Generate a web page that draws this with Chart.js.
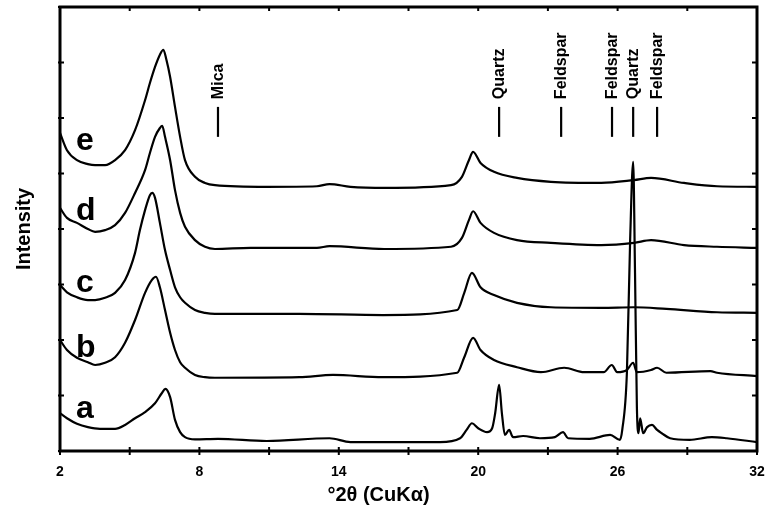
<!DOCTYPE html>
<html>
<head>
<meta charset="utf-8">
<script src="https://cdn.jsdelivr.net/npm/chart.js@4/dist/chart.umd.min.js"></script>
<style>
  html, body { margin: 0; padding: 0; background: #fff; }
  #c { display: block; }
</style>
</head>
<body>
<canvas id="c" width="768" height="511"></canvas>
<script>
// ---------- DATA ----------
const curveNames = ['a', 'b', 'c', 'd', 'e'];

const thetaA = [2, 2.3, 2.73, 3.2, 3.72, 4.37, 4.8, 5.23, 5.66, 6.09, 6.38, 6.54, 6.74, 6.95, 7.17, 7.38, 7.81, 8.8, 10.9, 13.6, 14.5, 15.9,
  18.36, 19.22, 19.5, 19.73, 20.0, 20.38, 20.6, 20.73, 20.9, 21.02, 21.15, 21.33, 21.5, 21.93, 22.66, 23.3, 23.65, 23.87,
  24.8, 25.68, 26.1, 26.2, 26.4, 26.54, 26.67, 26.75, 26.83, 26.9, 26.97, 27.1, 27.27, 27.48, 27.7, 27.9, 28.26, 29.1,
  30.06, 30.7, 32];
const intensityA = [0.68, 0.59, 0.49, 0.43, 0.40, 0.40, 0.47, 0.59, 0.70, 0.86, 1.04, 1.12, 0.97, 0.56, 0.34, 0.25, 0.21, 0.22, 0.18, 0.23, 0.16, 0.16,
  0.16, 0.23, 0.38, 0.50, 0.41, 0.34, 0.41, 0.68, 1.19, 0.68, 0.29, 0.38, 0.25, 0.27, 0.23, 0.25, 0.34, 0.23,
  0.22, 0.29, 0.20, 0.38, 1.41, 3.80, 5.21, 3.21, 0.79, 0.32, 0.59, 0.32, 0.43, 0.47, 0.38, 0.32, 0.23, 0.20,
  0.25, 0.23, 0.16];

const thetaB = [2, 2.3, 2.73, 3.2, 3.51, 3.94, 4.37, 4.8, 5.23, 5.66, 5.95, 6.13, 6.30, 6.52, 6.74, 6.95, 7.17, 7.38, 7.81, 8.24, 8.67, 12.3, 13.75, 15.9,
  19.1, 19.4, 19.78, 20.1, 20.68, 21.67, 22.7, 23.7, 24.56, 25.4, 25.75, 25.98, 26.4, 26.67, 26.83, 27.44, 27.7, 28.1,
  30.0, 30.28, 32];
const intensityB = [2.00, 1.82, 1.68, 1.60, 1.55, 1.59, 1.69, 1.95, 2.36, 2.85, 3.08, 3.14, 2.95, 2.54, 2.13, 1.82, 1.60, 1.50, 1.37, 1.33, 1.32, 1.33, 1.37, 1.33,
  1.41, 1.69, 2.04, 1.82, 1.64, 1.51, 1.42, 1.50, 1.42, 1.42, 1.55, 1.42, 1.46, 1.59, 1.42, 1.46, 1.50, 1.41,
  1.44, 1.41, 1.35];

const thetaC = [2, 2.3, 2.73, 3.2, 3.51, 3.94, 4.37, 4.8, 5.23, 5.44, 5.66, 5.87, 5.97, 6.09, 6.30, 6.52, 6.74, 6.95, 7.17, 7.38, 7.81, 8.24, 8.67, 12.3, 15.9,
  19.1, 19.4, 19.73, 20.1, 20.68, 21.67, 23.13, 25.3, 26.7, 28.1, 30.28, 32];
const intensityC = [2.99, 2.86, 2.77, 2.72, 2.72, 2.76, 2.85, 3.08, 3.57, 3.98, 4.34, 4.61, 4.65, 4.56, 4.11, 3.62, 3.26, 2.95, 2.77, 2.67, 2.54, 2.49, 2.47, 2.47, 2.45,
  2.54, 2.85, 3.21, 2.95, 2.81, 2.67, 2.59, 2.58, 2.59, 2.56, 2.50, 2.49];

const thetaD = [2, 2.3, 2.73, 3.2, 3.51, 3.94, 4.37, 4.8, 5.23, 5.66, 5.87, 6.09, 6.30, 6.40, 6.52, 6.74, 6.95, 7.17, 7.38, 7.81, 8.24, 8.67, 10.2, 13.06, 13.6, 15.95,
  18.83, 19.3, 19.6, 19.78, 20.1, 20.68, 21.67, 23.13, 25.3, 26.7, 27.44, 28.86, 30.28, 32];
const intensityD = [4.38, 4.20, 4.11, 4.00, 3.95, 3.98, 4.07, 4.29, 4.65, 5.06, 5.37, 5.66, 5.82, 5.86, 5.66, 5.24, 4.70, 4.29, 4.04, 3.80, 3.68, 3.64, 3.66, 3.66, 3.69, 3.64,
  3.68, 3.84, 4.16, 4.32, 4.11, 3.93, 3.80, 3.75, 3.71, 3.75, 3.80, 3.71, 3.68, 3.66];

const thetaE = [2, 2.3, 2.73, 3.2, 3.51, 3.94, 4.37, 4.8, 5.23, 5.66, 5.87, 6.09, 6.30, 6.45, 6.58, 6.74, 6.95, 7.17, 7.38, 7.81, 8.24, 8.67, 10.9, 13.06, 13.6, 14.5, 16,
  18.83, 19.3, 19.6, 19.78, 20.1, 20.68, 21.67, 23.13, 25.3, 26.7, 27.44, 28.86, 30.28, 32];
const intensityE = [5.73, 5.42, 5.24, 5.17, 5.15, 5.15, 5.24, 5.42, 5.78, 6.32, 6.63, 6.92, 7.14, 7.23, 7.05, 6.74, 6.20, 5.66, 5.24, 4.94, 4.83, 4.79, 4.76, 4.77, 4.81, 4.76, 4.74,
  4.79, 4.94, 5.24, 5.39, 5.19, 5.03, 4.92, 4.85, 4.83, 4.88, 4.92, 4.83, 4.77, 4.76];

const phaseNames = ['Mica', 'Quartz', 'Feldspar', 'Feldspar', 'Quartz', 'Feldspar'];
const phaseTheta = [8.8, 20.9, 23.57, 25.76, 26.67, 27.7];

const xTickValues = [2, 5, 8, 11, 14, 17, 20, 23, 26, 29, 32];
const xTickLabels = [2, 8, 14, 20, 26, 32];
const yTickValues = [0, 1, 2, 3, 4, 5, 6, 7, 8];

// ---------- CHART ----------
const FONT = "'Liberation Sans', Arial, Helvetica, sans-serif";

function pairs(xs, ys) { return xs.map((x, i) => ({ x: x, y: ys[i] })); }

const seriesX = [thetaA, thetaB, thetaC, thetaD, thetaE];
const seriesY = [intensityA, intensityB, intensityC, intensityD, intensityE];

const datasets = curveNames.map((n, i) => ({
  label: n,
  data: pairs(seriesX[i], seriesY[i]),
  borderColor: '#000',
  borderWidth: 2.2,
  pointRadius: 0,
  fill: false,
  cubicInterpolationMode: 'monotone'
}));

const decorPlugin = {
  id: 'decor',
  afterDatasetsDraw(chart, args, opts) {
    const ctx = chart.ctx;
    const xs = chart.scales.x, ys = chart.scales.y;
    const a = chart.chartArea;
    ctx.save();
    // curve letters
    ctx.fillStyle = '#000';
    ctx.font = 'bold 32px ' + FONT;
    ctx.textAlign = 'left';
    ctx.textBaseline = 'alphabetic';
    curveNames.forEach((n, i) => {
      ctx.fillText(n, xs.getPixelForValue(opts.letterX), ys.getPixelForValue(opts.letterY[i]));
    });
    // phase markers
    ctx.strokeStyle = '#000';
    ctx.lineWidth = 2.2;
    phaseTheta.forEach((t, i) => {
      const px = xs.getPixelForValue(t);
      ctx.beginPath();
      ctx.moveTo(px, ys.getPixelForValue(opts.markLow));
      ctx.lineTo(px, ys.getPixelForValue(opts.markHigh));
      ctx.stroke();
      ctx.save();
      ctx.translate(px + 0.5, ys.getPixelForValue(opts.textBase));
      ctx.rotate(-Math.PI / 2);
      ctx.font = 'bold 16px ' + FONT;
      ctx.textAlign = 'left';
      ctx.textBaseline = 'middle';
      ctx.fillText(phaseNames[i], 0, 0);
      ctx.restore();
    });
    // frame
    ctx.lineWidth = 3;
    ctx.strokeRect(a.left, a.top, a.right - a.left, a.bottom - a.top);
    // ticks
    ctx.lineWidth = 2;
    xTickValues.forEach(v => {
      const px = xs.getPixelForValue(v);
      ctx.beginPath();
      ctx.moveTo(px, a.bottom + 4); ctx.lineTo(px, a.bottom - 4);
      ctx.moveTo(px, a.top); ctx.lineTo(px, a.top + 4);
      ctx.stroke();
    });
    yTickValues.forEach(v => {
      const py = ys.getPixelForValue(v);
      ctx.beginPath();
      ctx.moveTo(a.left - 2, py); ctx.lineTo(a.left + 4, py);
      ctx.moveTo(a.right, py); ctx.lineTo(a.right - 5, py);
      ctx.stroke();
    });
    ctx.restore();
  }
};

new Chart(document.getElementById('c'), {
  type: 'line',
  data: { datasets: datasets },
  plugins: [decorPlugin],
  options: {
    responsive: false,
    animation: false,
    layout: { padding: { left: 0, right: 11, top: 7, bottom: 0 } },
    plugins: {
      legend: { display: false },
      tooltip: { enabled: false },
      title: {
        display: true,
        position: 'bottom',
        text: '°2θ (CuKα)',
        color: '#000',
        font: { family: FONT, size: 20, weight: 'bold' },
        padding: { top: 0, bottom: 4 }
      },
      decor: {
        letterX: 2.69,
        letterY: [0.59, 1.69, 2.86, 4.16, 5.42],
        markLow: 5.66,
        markHigh: 6.2,
        textBase: 6.34
      }
    },
    scales: {
      x: {
        type: 'linear',
        min: 2,
        max: 32,
        afterBuildTicks: (s) => { s.ticks = xTickValues.map(v => ({ value: v })); },
        afterFit: (s) => { s.height = 32; },
        grid: { display: false, drawTicks: false },
        border: { display: false },
        ticks: {
          color: '#000',
          padding: 0,
          maxRotation: 0,
          autoSkip: false,
          font: { family: FONT, size: 14, weight: 'bold', lineHeight: 3 },
          callback: (v) => xTickLabels.includes(v) ? String(v) : ''
        }
      },
      y: {
        type: 'linear',
        min: 0,
        max: 8,
        afterBuildTicks: (s) => { s.ticks = yTickValues.map(v => ({ value: v })); },
        afterFit: (s) => { s.width = 60; },
        grid: { display: false, drawTicks: false },
        border: { display: false },
        ticks: { display: false },
        title: {
          display: true,
          text: 'Intensity',
          color: '#000',
          font: { family: FONT, size: 20, weight: 'bold' },
          padding: { top: 12, bottom: 0 }
        }
      }
    }
  }
});
</script>
</body>
</html>
